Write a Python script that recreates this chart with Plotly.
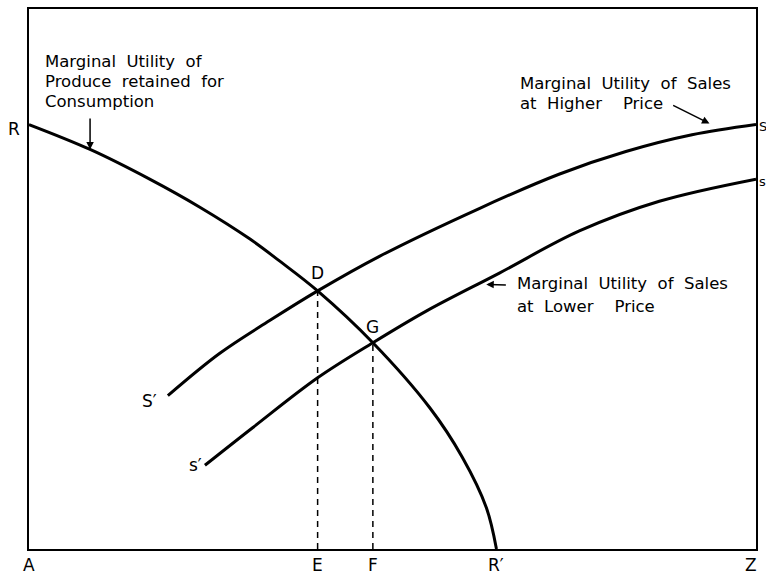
import plotly.graph_objects as go

# Curve data (x: A=0 .. Z=100, y: base=0 .. top=100)
r_x = [0, 8.4, 16.6, 23.5, 30.4, 34.5, 39.7, 47.3, 55.1, 59.6, 62.9, 64.3]
r_y = [78.6, 74.0, 68.5, 63.3, 57.4, 53.3, 47.8, 38.2, 26.2, 17.0, 7.7, 0]

s_hi_x = [19.1, 26.2, 33.1, 39.7, 48.2, 62.0, 72.9, 82.1, 91.2, 100]
s_hi_y = [28.4, 36.2, 42.3, 47.8, 54.2, 63.1, 69.4, 73.6, 76.7, 78.6]

s_lo_x = [24.2, 30.8, 39.7, 47.3, 54.7, 64.7, 75.7, 86.7, 100]
s_lo_y = [15.5, 22.5, 31.7, 38.2, 44.1, 51.1, 58.9, 64.4, 68.5]

point_names = ["D", "G"]
point_x = [39.7, 47.3]
point_y = [47.8, 38.2]
foot_names = ["E", "F"]

base_names = ["A", "R′", "Z"]
base_x = [0, 64.3, 99.3]

FONT = "DejaVu Sans"
SP = "\u00a0\u00a0"

fig = go.Figure()
for xs, ys in [(r_x, r_y), (s_hi_x, s_hi_y), (s_lo_x, s_lo_y)]:
    fig.add_trace(go.Scatter(x=xs, y=ys, mode="lines",
                             line=dict(color="black", width=3, shape="spline", smoothing=1.0),
                             hoverinfo="skip", showlegend=False))

for px_, py_ in zip(point_x, point_y):
    fig.add_trace(go.Scatter(x=[px_, px_], y=[0, py_], mode="lines",
                             line=dict(color="black", width=1.5, dash="6px,5px"),
                             hoverinfo="skip", showlegend=False))

ann = []
def lab(text, x, y, size=17, xanchor="center", xref="x", yref="y"):
    ann.append(dict(x=x, y=y, xref=xref, yref=yref, text=text, showarrow=False,
                    xanchor=xanchor, yanchor="middle",
                    font=dict(family=FONT, size=size, color="black")))

# point labels
lab(point_names[0], point_x[0], point_y[0] + 3.4)
lab(point_names[1], point_x[1], point_y[1] + 3.0)
for n, x in zip(foot_names, point_x):
    lab(n, x, -0.03, yref="paper")
for n, x in zip(base_names, base_x):
    lab(n, x, -0.03, yref="paper")
lab("R", -0.021, 0.777, xref="paper", yref="paper")
lab("S′", 16.6, 27.5)
lab("s′", 22.9, 15.5)
lab("S", 1.0015, 0.782, size=13, xanchor="left", xref="paper", yref="paper")
lab("s", 1.0015, 0.68, size=13, xanchor="left", xref="paper", yref="paper")

# descriptive texts
tsize = 16.5
for t, y in [("Marginal" + SP + "Utility" + SP + "of", 90.2),
             ("Produce" + SP + "retained" + SP + "for", 86.5),
             ("Consumption", 82.8)]:
    lab(t, 1.9, y, size=tsize, xanchor="left")
for t, y in [("Marginal" + SP + "Utility" + SP + "of" + SP + "Sales", 86.2),
             ("at" + SP + "Higher" + SP + SP + "Price", 82.5)]:
    lab(t, 67.2, y, size=tsize, xanchor="left")
for t, y in [("Marginal" + SP + "Utility" + SP + "of" + SP + "Sales", 49.1),
             ("at" + SP + "Lower" + SP + SP + "Price", 45.0)]:
    lab(t, 66.8, y, size=tsize, xanchor="left")

# arrows
def arrow(x, y, ax, ay):
    ann.append(dict(x=x, y=y, ax=ax, ay=ay, xref="x", yref="y", axref="x", ayref="y",
                    text="", showarrow=True, arrowhead=2, arrowsize=1, arrowwidth=1.5,
                    arrowcolor="black"))
arrow(8.4, 74.0, 8.4, 80.0)
arrow(93.6, 78.8, 88.4, 82.3)
arrow(62.9, 49.0, 65.8, 48.9)

fig.update_layout(
    width=766, height=576,
    margin=dict(l=29, r=10, t=7, b=27),
    paper_bgcolor="white", plot_bgcolor="white",
    xaxis=dict(range=[0, 100], showgrid=False, zeroline=False, showticklabels=False,
               ticks="", showline=True, mirror=True, linecolor="black", linewidth=1.5),
    yaxis=dict(range=[0, 100], showgrid=False, zeroline=False, showticklabels=False,
               ticks="", showline=True, mirror=True, linecolor="black", linewidth=1.5),
    annotations=ann,
    showlegend=False,
)

fig.write_html("out.html", config={"displayModeBar": False},
               post_script="document.body.style.margin='0';document.body.style.overflow='hidden';")
